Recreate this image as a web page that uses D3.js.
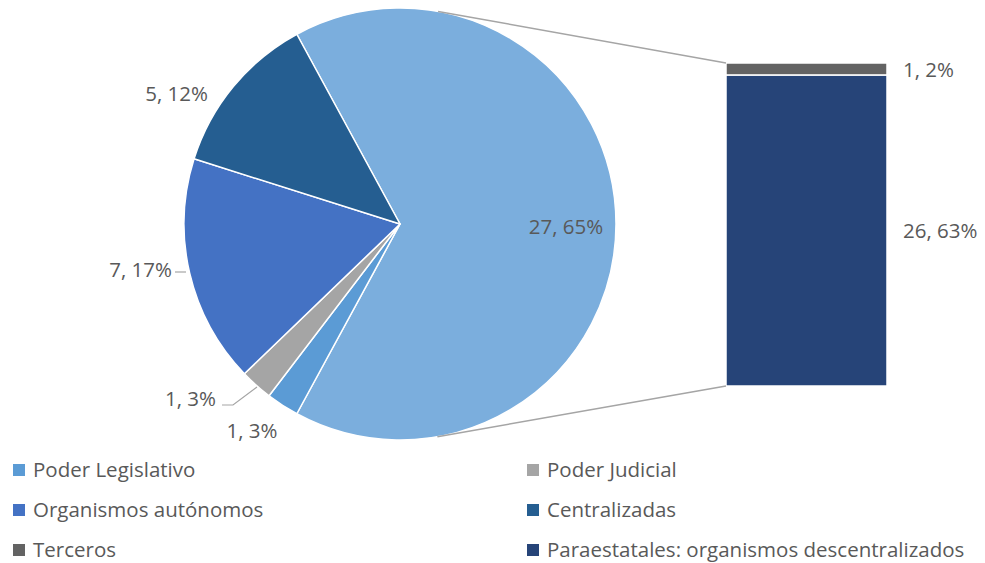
<!DOCTYPE html>
<html><head><meta charset="utf-8">
<script src="https://cdn.jsdelivr.net/npm/d3@7"></script>
<style>body{margin:0;background:#fff}svg{display:block}text{font-family:"Open Sans",sans-serif;fill:#595959}</style>
</head><body>
<svg id="c" width="985" height="563"></svg>
<script>
// Data
const pieNames = ["Otros", "Poder Legislativo", "Poder Judicial", "Organismos autónomos", "Centralizadas"];
const pieValues = [27, 1, 1, 7, 5];
const piePct = ["65%", "3%", "3%", "17%", "12%"];
const barNames = ["Paraestatales: organismos descentralizados", "Terceros"];
const barValues = [26, 1];
const barPct = ["63%", "2%"];
const legendNames = ["Poder Legislativo", "Poder Judicial", "Organismos autónomos", "Centralizadas", "Terceros", "Paraestatales: organismos descentralizados"];

const colors = {
  "Otros": "#7BAEDD",
  "Poder Legislativo": "#5B9BD5",
  "Poder Judicial": "#A5A5A5",
  "Organismos autónomos": "#4472C4",
  "Centralizadas": "#255E91",
  "Terceros": "#636363",
  "Paraestatales: organismos descentralizados": "#264478"
};

const svg = d3.select("#c");
const cx = 400, cy = 224, R = 216;
const total = d3.sum(pieValues);
const otherSpan = pieValues[0] / total * 2 * Math.PI;
const a0 = Math.PI / 2 - otherSpan / 2;

const pie = d3.pie().sort(null).value(d => d).startAngle(a0).endAngle(a0 + 2 * Math.PI);
const arcs = pie(pieValues);
const arc = d3.arc().innerRadius(0).outerRadius(R);

const g = svg.append("g").attr("transform", `translate(${cx},${cy})`);
g.selectAll("path").data(arcs).join("path")
  .attr("d", arc)
  .attr("fill", (d, i) => colors[pieNames[i]])
  .attr("stroke", "#fff").attr("stroke-width", 1.5).attr("stroke-linejoin", "round");

// Bar
const barX = 726, barW = 161, barTop = 63, barBottom = 386;
const y = d3.scaleLinear().domain([0, d3.sum(barValues)]).range([barBottom, barTop]);
let acc = 0;
const segs = barValues.map((v, i) => { const s = {name: barNames[i], v, y0: acc, y1: acc + v, pct: barPct[i]}; acc += v; return s; });
svg.selectAll("rect.seg").data(segs).join("rect").attr("class", "seg")
  .attr("x", barX).attr("width", barW)
  .attr("y", d => y(d.y1)).attr("height", d => y(d.y0) - y(d.y1))
  .attr("fill", d => colors[d.name])
  .attr("stroke", "#fff").attr("stroke-width", 1.5);

// Tangent connector lines
function tangent(px, py, up) {
  const dx = px - cx, dy = py - cy;
  const d = Math.hypot(dx, dy);
  const base = Math.atan2(dy, dx);
  const off = Math.acos(R / d);
  const a = up ? base - off : base + off;
  return [cx + R * Math.cos(a), cy + R * Math.sin(a)];
}
const t1 = tangent(barX, barTop, true);
const t2 = tangent(barX, barBottom, false);
svg.append("line").attr("x1", t1[0]).attr("y1", t1[1]).attr("x2", barX).attr("y2", barTop)
  .attr("stroke", "#A5A5A5").attr("stroke-width", 1.5);
svg.append("line").attr("x1", t2[0]).attr("y1", t2[1]).attr("x2", barX).attr("y2", barBottom)
  .attr("stroke", "#A5A5A5").attr("stroke-width", 1.5);

const fs = 20.5;
// Pie labels
const labelPos = [
  {x: 566, y: 234, anchor: "middle"},
  {x: 252, y: 438, anchor: "middle"},
  {x: 216, y: 406, anchor: "end"},
  {x: 172, y: 277, anchor: "end"},
  {x: 208, y: 101, anchor: "end"}
];
svg.selectAll("text.pl").data(arcs).join("text").attr("class", "pl")
  .attr("x", (d, i) => labelPos[i].x).attr("y", (d, i) => labelPos[i].y)
  .attr("text-anchor", (d, i) => labelPos[i].anchor)
  .attr("font-size", fs)
  .text((d, i) => `${pieValues[i]}, ${piePct[i]}`);

// Leader lines
svg.append("polyline").attr("points", "222,405 233,405 257,387")
  .attr("fill", "none").attr("stroke", "#A5A5A5").attr("stroke-width", 1.2);
svg.append("polyline").attr("points", "175,272 186,272")
  .attr("fill", "none").attr("stroke", "#A5A5A5").attr("stroke-width", 1.2);

// Bar labels
svg.selectAll("text.bl").data(segs).join("text").attr("class", "bl")
  .attr("x", 903)
  .attr("y", d => d.name === "Terceros" ? 77 : 238)
  .attr("font-size", fs)
  .text(d => `${d.v}, ${d.pct}`);

// Legend
const lg = svg.append("g");
legendNames.forEach((n, i) => {
  const col = i % 2, row = Math.floor(i / 2);
  const lx = col === 0 ? 13 : 527;
  const ly = 470 + row * 40;
  lg.append("rect").attr("x", lx).attr("y", ly - 6).attr("width", 12).attr("height", 12).attr("fill", colors[n]);
  lg.append("text").attr("x", lx + 20).attr("y", ly + 7).attr("font-size", fs).text(n);
});
</script>
</body></html>
